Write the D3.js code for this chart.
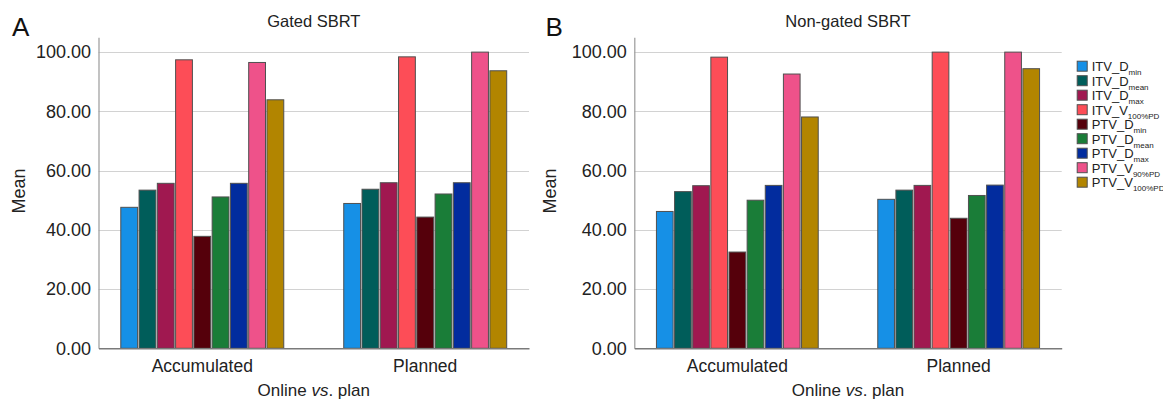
<!DOCTYPE html>
<html><head><meta charset="utf-8">
<script src="https://cdn.jsdelivr.net/npm/d3@7"></script>
<style>
html,body{margin:0;padding:0;background:#fff;}
svg{display:block;font-family:"Liberation Sans",Arial,Helvetica,sans-serif;}
</style></head>
<body><svg id="chart" width="1163" height="400"></svg>
<script>
const categories = ["Accumulated", "Planned"];
const seriesBase = ["ITV_D","ITV_D","ITV_D","ITV_V","PTV_D","PTV_D","PTV_D","PTV_V","PTV_V"];
const seriesSub = ["min","mean","max","100%PD","min","mean","max","90%PD","100%PD"];
const seriesColors = ["#1690e6","#005d5a","#a01850","#fd4d57","#55000b","#1a7d38","#022c9e","#ee528a","#b28500"];
const gatedAccumulated = [47.6, 53.4, 55.7, 97.4, 37.8, 51.1, 55.7, 96.5, 83.9];
const gatedPlanned = [48.9, 53.7, 55.9, 98.4, 44.3, 52.1, 55.9, 100.0, 93.7];
const nonGatedAccumulated = [46.2, 52.9, 54.9, 98.3, 32.5, 50.0, 55.0, 92.6, 78.1];
const nonGatedPlanned = [50.3, 53.4, 55.0, 100.0, 43.9, 51.6, 55.1, 100.0, 94.4];
const yTicks = [0, 20, 40, 60, 80, 100];
const yMax = 105;

const svg = d3.select("#chart");
svg.append("rect").attr("width",1163).attr("height",400).attr("fill","#fff");

function panel(o) {
  const g = svg.append("g");
  const y = d3.scaleLinear().domain([0, yMax]).range([o.bottom, o.top]);
  const x0 = d3.scaleBand().domain(categories).range([o.left, o.right]).paddingInner(0.269).paddingOuter(0.1);
  const x1 = d3.scaleBand().domain(d3.range(seriesSub.length)).range([0, x0.bandwidth()]).paddingInner(0.08).paddingOuter(0);

  // grid
  g.append("g").selectAll("line").data(yTicks.filter(t => t > 0)).join("line")
    .attr("x1", o.left).attr("x2", o.right)
    .attr("y1", d => Math.round(y(d)) + 0.5).attr("y2", d => Math.round(y(d)) + 0.5)
    .attr("stroke", "#d2d2d2").attr("stroke-width", 1.2);

  // bars
  const rows = categories.map((c, ci) => ({cat: c, vals: o.data[ci]}));
  const grp = g.append("g").selectAll("g").data(rows).join("g")
    .attr("transform", d => `translate(${x0(d.cat)},0)`);
  grp.selectAll("rect").data(d => d.vals.map((v, i) => ({v, i}))).join("rect")
    .attr("x", d => x1(d.i)).attr("width", x1.bandwidth())
    .attr("y", d => y(d.v)).attr("height", d => y(0) - y(d.v))
    .attr("fill", d => seriesColors[d.i])
    .attr("stroke", "#505050").attr("stroke-width", 1);

  // y axis
  const ya = g.append("g").attr("transform", `translate(${o.left},0)`)
    .call(d3.axisLeft(y).tickValues(yTicks).tickFormat(d3.format(".2f")).tickSize(0).tickPadding(7.5));
  ya.select(".domain").attr("stroke", "#9a9a9a").attr("stroke-width", 1.2);
  ya.selectAll("text").attr("font-size", "18px").attr("fill", "#222").attr("font-family", "Liberation Sans, Arial, sans-serif");

  // x axis
  const xa = g.append("g").attr("transform", `translate(0,${o.bottom})`)
    .call(d3.axisBottom(x0).tickSize(0).tickPadding(11).tickSizeOuter(0));
  xa.select(".domain").attr("stroke", "#7a7a7a").attr("stroke-width", 1.4);
  xa.selectAll("text").attr("font-size", "17.5px").attr("fill", "#222").attr("font-family", "Liberation Sans, Arial, sans-serif");

  // title
  g.append("text").attr("x", (o.left + o.right) / 2).attr("y", 26.7)
    .attr("text-anchor", "middle").attr("font-size", "16.5px").attr("fill", "#222").text(o.title);
  // panel letter
  g.append("text").attr("x", o.letterX).attr("y", 36).attr("font-size", "26px").attr("fill", "#111").text(o.letter);
  // y title
  g.append("text").attr("transform", `translate(${o.meanX},191) rotate(-90)`)
    .attr("text-anchor", "middle").attr("font-size", "18px").attr("fill", "#222").text("Mean");
  // x title
  const xt = g.append("text").attr("x", (o.left + o.right) / 2).attr("y", 395.5)
    .attr("text-anchor", "middle").attr("font-size", "17px").attr("fill", "#222");
  xt.append("tspan").text("Online ");
  xt.append("tspan").attr("font-style", "italic").text("vs");
  xt.append("tspan").text(". plan");
}

panel({left: 98.5, right: 529, top: 37.3, bottom: 348.3, data: [gatedAccumulated, gatedPlanned],
  title: "Gated SBRT", letter: "A", letterX: 12, meanX: 24.5});
panel({left: 634.3, right: 1061.7, top: 37.3, bottom: 348.3, data: [nonGatedAccumulated, nonGatedPlanned],
  title: "Non-gated SBRT", letter: "B", letterX: 545.5, meanX: 555.5});

// legend
const leg = svg.append("g").attr("transform", "translate(1076.7,60.7)");
const li = leg.selectAll("g").data(seriesSub.map((s, i) => i)).join("g")
  .attr("transform", i => `translate(0,${i * 14.5})`);
li.append("rect").attr("x", 0.5).attr("y", 0.5).attr("width", 10).attr("height", 10)
  .attr("fill", i => seriesColors[i]).attr("stroke", "#505050").attr("stroke-width", 1);
const lt = li.append("text").attr("x", 15).attr("y", 10.5).attr("font-size", "13px").attr("fill", "#222");
lt.append("tspan").text(i => seriesBase[i]);
lt.append("tspan").attr("font-size", "8px").attr("dy", 4).text(i => seriesSub[i]);
</script></body></html>
